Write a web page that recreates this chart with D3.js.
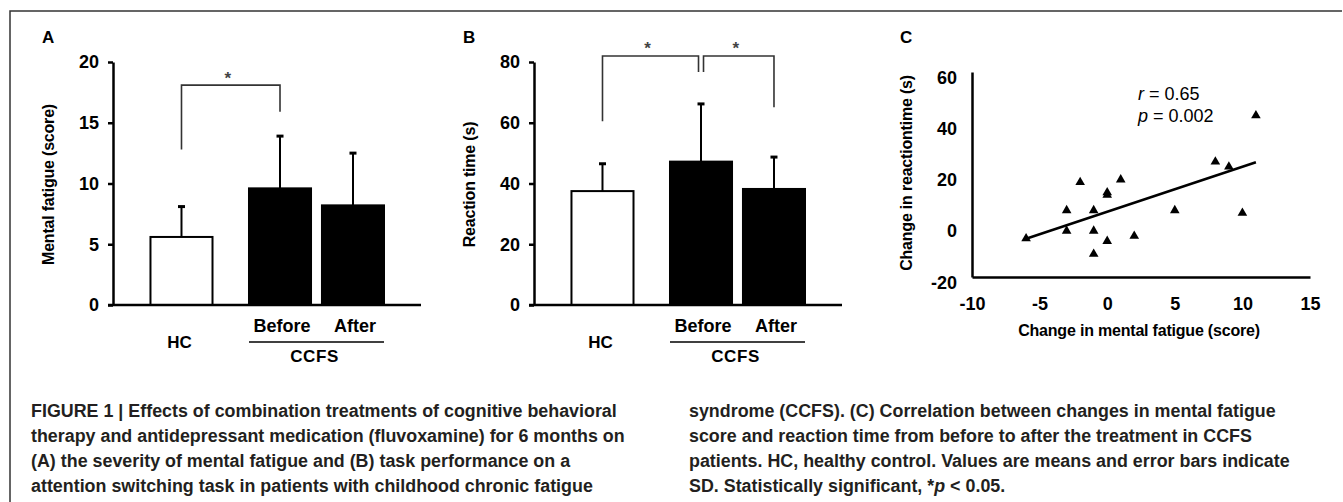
<!DOCTYPE html>
<html>
<head>
<meta charset="utf-8">
<script src="https://cdn.jsdelivr.net/npm/d3@7"></script>
<style>
  body { margin: 0; background: #fff; }
  svg { display: block; font-family: "Liberation Sans", Arial, sans-serif; font-weight: bold; }
  .caption text { font-family: "Liberation Sans Narrow", "Arial Narrow", "Liberation Sans", sans-serif; font-size: 19px; fill: #231f20; }
</style>
</head>
<body>
<svg id="fig" width="1343" height="502"></svg>
<script>
'use strict';

/* bar panels A and B */
var barCategories = ['HC', 'Before', 'After'];
var barGroups = ['HC', 'CCFS'];
var barGroupOf = ['HC', 'CCFS', 'CCFS'];

var fatigueMean = [5.6, 9.6, 8.2];
var fatigueSD = [2.5, 4.3, 4.3];
var fatigueTicks = [0, 5, 10, 15, 20];
var fatigueBrackets = [
  {from: 'HC', to: 'Before', left: 12.8, top: 18.1, right: 15.9}
];

var reactionMean = [37.5, 47.2, 38.2];
var reactionSD = [9.0, 19.0, 10.5];
var reactionTicks = [0, 20, 40, 60, 80];
var reactionBrackets = [
  {from: 'HC', to: 'Before', left: 60.5, top: 82, right: 76.7},
  {from: 'Before', to: 'After', left: 76.7, top: 82, right: 65.1}
];

/* scatter panel C */
var changeFatigue = [-6, -3, -3, -2, -1, -1, -1, 0, 0, 0, 1, 2, 5, 8, 9, 10, 11];
var changeReaction = [-5, 6, -2, 17, 6, -2, -11, 12, 13, -6, 18, -4, 6, 25, 23, 5, 43];
var scatterXTicks = [-10, -5, 0, 5, 10, 15];
var scatterYTicks = [-20, 0, 20, 40, 60];

/* caption, '_' inside a line marks the italic part */
var captionLeft = [
  'FIGURE 1 | Effects of combination treatments of cognitive behavioral',
  'therapy and antidepressant medication (fluvoxamine) for 6 months on',
  '(A) the severity of mental fatigue and (B) task performance on a',
  'attention switching task in patients with childhood chronic fatigue'
];
var captionRight = [
  'syndrome (CCFS). (C) Correlation between changes in mental fatigue',
  'score and reaction time from before to after the treatment in CCFS',
  'patients. HC, healthy control. Values are means and error bars indicate',
  'SD. Statistically significant, *_p_ < 0.05.'
];

var svg = d3.select('#fig');

// page frame (top and left rules)
svg.append('path')
  .attr('d', 'M10,502V11H1342')
  .attr('fill', 'none')
  .attr('stroke', '#333')
  .attr('stroke-width', 1.5);

function styleTicks(sel) {
  sel.selectAll('text')
    .style('font-size', '18px')
    .style('font-family', '"Liberation Sans", Arial, sans-serif')
    .style('font-weight', 'bold')
    .attr('fill', '#000');
}

function drawBarPanel(cfg) {
  var g = svg.append('g');
  var y0 = 305, yTop = 62;
  var left = cfg.axisX, right = cfg.axisX + 308;

  var y = d3.scaleLinear()
    .domain([0, d3.max(cfg.ticks)])
    .range([y0, yTop]);

  // one band per group, bars laid out inside each group band
  var gx = d3.scaleBand()
    .domain(barGroups)
    .range([left, right])
    .paddingInner(0)
    .paddingOuter(0.1407)
    .align(0.026);
  var slot = d3.scaleBand()
    .domain([0, 1])
    .range([0, gx.bandwidth()])
    .paddingInner(0.15);
  var barW = slot.bandwidth();

  function barCenter(cat) {
    var i = barCategories.indexOf(cat);
    var grp = barGroupOf[i];
    var members = barCategories.filter(function(c, j) { return barGroupOf[j] === grp; });
    var k = members.indexOf(cat);
    var span = members.length * slot.step() - slot.step() * 0.15;
    var off = (gx.bandwidth() - span) / 2;
    return gx(grp) + off + k * slot.step() + barW / 2;
  }

  // y axis
  var yAxis = g.append('g')
    .attr('transform', 'translate(' + left + ',0)')
    .call(d3.axisLeft(y).tickValues(cfg.ticks).tickSize(5).tickPadding(9).tickSizeOuter(0));
  yAxis.selectAll('path, line').attr('stroke', '#000').attr('stroke-width', 2.5);
  styleTicks(yAxis);

  // bars
  g.selectAll('.bar')
    .data(barCategories)
    .enter()
    .append('rect')
    .attr('x', function(d) { return barCenter(d) - barW / 2; })
    .attr('width', barW)
    .attr('y', function(d, i) { return y(cfg.mean[i]); })
    .attr('height', function(d, i) { return y0 - y(cfg.mean[i]); })
    .attr('fill', function(d, i) { return barGroupOf[i] === 'HC' ? '#fff' : '#000'; })
    .attr('stroke', '#000')
    .attr('stroke-width', 2);

  // upper error bars
  g.selectAll('.err')
    .data(barCategories)
    .enter()
    .append('path')
    .attr('d', function(d, i) {
      var cx = barCenter(d);
      return 'M' + cx + ',' + y(cfg.mean[i]) + 'V' + y(cfg.mean[i] + cfg.sd[i]);
    })
    .attr('stroke', '#000')
    .attr('stroke-width', 2);
  g.selectAll('.cap')
    .data(barCategories)
    .enter()
    .append('path')
    .attr('d', function(d, i) {
      var cx = barCenter(d);
      return 'M' + (cx - 3.5) + ',' + y(cfg.mean[i] + cfg.sd[i]) + 'H' + (cx + 3.5);
    })
    .attr('stroke', '#000')
    .attr('stroke-width', 3);

  // x axis (no ticks)
  var xAxis = g.append('g')
    .attr('transform', 'translate(0,' + y0 + ')')
    .call(d3.axisBottom(gx).tickSize(0).tickSizeOuter(0).tickFormat(''));
  xAxis.selectAll('path').attr('stroke', '#000').attr('stroke-width', 2.5);
  xAxis.select('.domain').attr('d', 'M' + (left - 5) + ',0H' + right);

  // category labels
  barCategories.forEach(function(cat, i) {
    var grp = barGroupOf[i];
    var single = barGroupOf.filter(function(x) { return x === grp; }).length === 1;
    if (single) return;
    g.append('text')
      .attr('x', barCenter(cat) + 2)
      .attr('y', y0 + 27)
      .attr('text-anchor', 'middle')
      .style('font-size', '18px')
      .text(cat);
  });
  barGroups.forEach(function(grp) {
    var n = barGroupOf.filter(function(x) { return x === grp; }).length;
    var cx = gx(grp) + gx.bandwidth() / 2;
    if (n > 1) {
      g.append('path')
        .attr('d', 'M' + gx(grp) + ',' + (y0 + 37) + 'H' + (gx(grp) + gx.bandwidth()))
        .attr('stroke', '#000')
        .attr('stroke-width', 1.5);
    }
    g.append('text')
      .attr('x', cx - 2)
      .attr('y', y0 + (n > 1 ? 57 : 43))
      .attr('text-anchor', 'middle')
      .style('font-size', '17px')
      .style('letter-spacing', n > 1 ? '0.6px' : '0')
      .text(grp);
  });

  // significance brackets
  var shared = {};
  cfg.brackets.forEach(function(b) {
    shared[b.from] = (shared[b.from] || 0) + 1;
    shared[b.to] = (shared[b.to] || 0) + 1;
  });
  cfg.brackets.forEach(function(b) {
    var x1 = barCenter(b.from) + (shared[b.from] > 1 ? 2.5 : 0);
    var x2 = barCenter(b.to) - (shared[b.to] > 1 ? 2.5 : 0);
    g.append('path')
      .attr('d', 'M' + x1 + ',' + y(b.left) + 'V' + y(b.top) + 'H' + x2 + 'V' + y(b.right))
      .attr('fill', 'none')
      .attr('stroke', '#333')
      .attr('stroke-width', 1.6);
    g.append('text')
      .attr('x', (x1 + x2) / 2 - 3)
      .attr('y', y(b.top) - 1.5)
      .attr('text-anchor', 'middle')
      .attr('fill', '#444')
      .style('font-size', '17px')
      .text('*');
  });

  // y title
  g.append('text')
    .attr('transform', 'translate(' + (left - 59) + ',' + ((y0 + yTop) / 2 + 1) + ') rotate(-90)')
    .attr('text-anchor', 'middle')
    .style('font-size', '16px')
    .style('letter-spacing', '-0.2px')
    .text(cfg.yTitle);

  // panel letter
  g.append('text')
    .attr('x', left - 71)
    .attr('y', 43)
    .style('font-size', '17px')
    .text(cfg.letter);
}

drawBarPanel({
  letter: 'A', axisX: 113, mean: fatigueMean, sd: fatigueSD,
  ticks: fatigueTicks, brackets: fatigueBrackets, yTitle: 'Mental fatigue (score)'
});
drawBarPanel({
  letter: 'B', axisX: 534, mean: reactionMean, sd: reactionSD,
  ticks: reactionTicks, brackets: reactionBrackets, yTitle: 'Reaction time (s)'
});

/* panel C scatter */
(function() {
  var g = svg.append('g');
  var x = d3.scaleLinear().domain([-10, 15]).range([972, 1310]);
  var y = d3.scaleLinear().domain([-20, 60]).range([277, 72]);
  var plain = function(d) { return String(d); };

  var yAxis = g.append('g')
    .attr('transform', 'translate(972,0)')
    .call(d3.axisLeft(y).tickValues(scatterYTicks).tickFormat(plain)
      .tickSize(0).tickPadding(15).tickSizeOuter(0));
  yAxis.selectAll('text').attr('dy', '0.62em');
  var xAxis = g.append('g')
    .attr('transform', 'translate(0,277)')
    .call(d3.axisBottom(x).tickValues(scatterXTicks).tickFormat(plain)
      .tickSize(0).tickPadding(20).tickSizeOuter(0));
  [yAxis, xAxis].forEach(function(a) {
    a.selectAll('path').attr('stroke', '#000').attr('stroke-width', 2.5);
    styleTicks(a);
  });

  // least squares fit from the points
  var n = changeFatigue.length;
  var mx = d3.mean(changeFatigue), my = d3.mean(changeReaction);
  var sxy = 0, sxx = 0;
  for (var i = 0; i < n; i++) {
    sxy += (changeFatigue[i] - mx) * (changeReaction[i] - my);
    sxx += (changeFatigue[i] - mx) * (changeFatigue[i] - mx);
  }
  var slope = sxy / sxx, icpt = my - slope * mx;
  var ext = d3.extent(changeFatigue);
  g.append('line')
    .attr('x1', x(ext[0])).attr('y1', y(icpt + slope * ext[0]))
    .attr('x2', x(ext[1])).attr('y2', y(icpt + slope * ext[1]))
    .attr('stroke', '#000')
    .attr('stroke-width', 2.5);

  g.selectAll('.pt')
    .data(changeFatigue)
    .enter()
    .append('path')
    .attr('d', d3.symbol().type(d3.symbolTriangle).size(40))
    .attr('transform', function(d, i) {
      return 'translate(' + x(d) + ',' + y(changeReaction[i]) + ')';
    })
    .attr('fill', '#000');

  var st = g.append('text').attr('x', 1138).attr('y', 100).style('font-size', '18px').style('font-weight', 'normal');
  st.append('tspan').style('font-style', 'italic').text('r');
  st.append('tspan').text(' = 0.65');
  var sp = g.append('text').attr('x', 1138).attr('y', 122).style('font-size', '18px').style('font-weight', 'normal');
  sp.append('tspan').style('font-style', 'italic').text('p');
  sp.append('tspan').text(' = 0.002');

  g.append('text')
    .attr('transform', 'translate(912,173) rotate(-90)')
    .attr('text-anchor', 'middle')
    .style('font-size', '16px')
    .style('letter-spacing', '-0.2px')
    .text('Change in reactiontime (s)');
  g.append('text')
    .attr('x', 1139)
    .attr('y', 336)
    .attr('text-anchor', 'middle')
    .style('font-size', '16px')
    .style('letter-spacing', '-0.2px')
    .text('Change in mental fatigue (score)');
  g.append('text')
    .attr('x', 900)
    .attr('y', 43)
    .style('font-size', '17px')
    .text('C');
})();

/* caption, two columns */
function drawCaption(lines) {
  var g = svg.append('g').attr('class', 'caption');
  lines.forEach(function(line, i) {
    var t = g.append('text').attr('x', 0).attr('y', 417 + i * 25);
    line.split('_').forEach(function(part, j) {
      var ts = t.append('tspan').text(part);
      if (j === 1) ts.style('font-style', 'italic');
    });
  });
  return g;
}
var capL = drawCaption(captionLeft);
var capR = drawCaption(captionRight);

// squeeze the caption to the column width of the original layout
var w = capL.select('text').node().getComputedTextLength();
var k = 586 / w;
capL.attr('transform', 'translate(31,0) scale(' + k + ',1)');
capR.attr('transform', 'translate(689,0) scale(' + k + ',1)');
</script>
</body>
</html>
